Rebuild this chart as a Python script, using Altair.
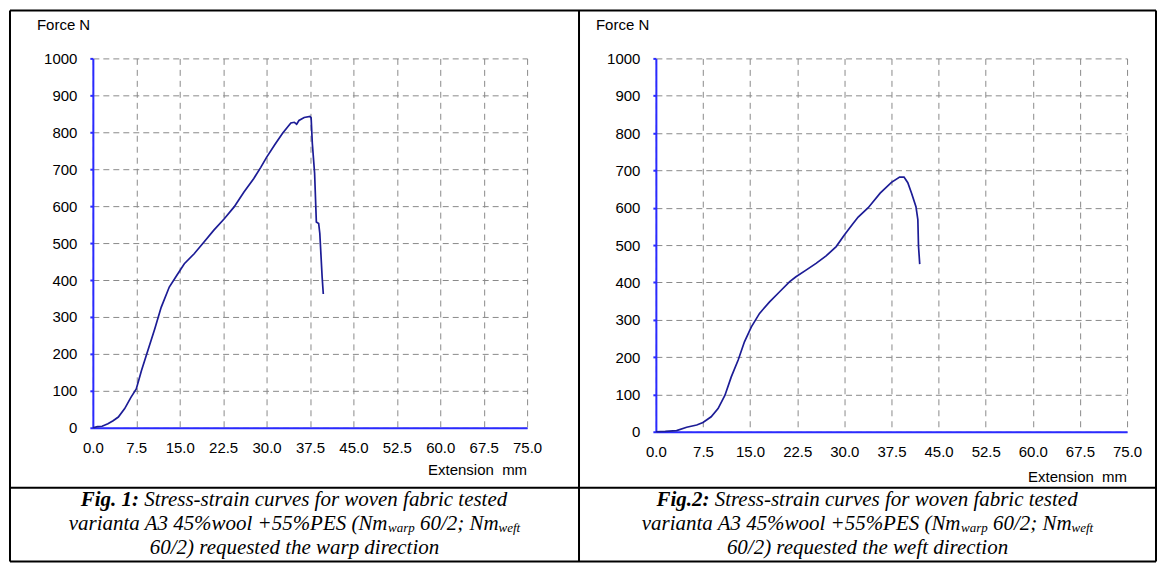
import altair as alt
import pandas as pd

# ---------------- data ----------------
x_tick_values = [0.0, 7.5, 15.0, 22.5, 30.0, 37.5, 45.0, 52.5, 60.0, 67.5, 75.0]
y_tick_values = [0, 100, 200, 300, 400, 500, 600, 700, 800, 900, 1000]

warp_extension = [0.0, 0.8, 1.6, 2.6, 3.5, 4.4, 5.5, 6.6, 7.5, 8.4, 9.5, 10.7, 11.8, 13.2,
                  14.4, 15.8, 17.5, 19.2, 20.9, 22.7, 24.4, 26.1, 27.8, 29.0, 30.0, 31.5,
                  32.8, 34.2, 34.8, 35.2, 35.6, 36.5, 37.5, 37.7, 37.9, 38.3, 38.6, 39.0,
                  39.2, 39.6, 39.8]
warp_force = [0, 3, 4, 11, 19, 29, 52, 83, 105, 155, 209, 268, 326, 381,
              410, 444, 471, 503, 535, 566, 598, 638, 675, 705, 732, 768,
              798, 825, 827, 822, 832, 840, 843, 839, 771, 689, 557, 553,
              526, 408, 362]

weft_extension = [0.0, 1.5, 3.3, 4.9, 6.5, 7.5, 8.8, 9.9, 11.0, 12.0, 13.1, 14.1, 15.2,
                  16.5, 18.1, 19.7, 21.3, 22.3, 23.9, 25.5, 27.1, 28.7, 30.0, 31.3, 32.2,
                  33.8, 35.7, 37.5, 38.8, 39.5, 40.1, 40.7, 41.4, 41.7, 41.8, 42.0]
weft_force = [0, 1, 3, 12, 18, 25, 40, 62, 98, 147, 192, 241, 281,
              317, 348, 375, 402, 415, 433, 451, 471, 496, 527, 556, 575,
              600, 639, 668, 682, 682, 667, 639, 603, 568, 498, 449]

y_title = "Force N"
x_title = "Extension\u00a0 mm"

fig1_label = "Fig. 1:"
fig2_label = "Fig.2:"
caption_line1 = "Stress-strain curves for woven fabric tested"
caption_line2 = ["varianta A3 45%wool +55%PES (Nm", "warp", "60/2; Nm", "weft"]
fig1_line3 = "60/2) requested the warp direction"
fig2_line3 = "60/2) requested the weft direction"

# ---------------- style ----------------
SANS = "Liberation Sans, Arial, sans-serif"
SERIF = "Liberation Serif, Times New Roman, serif"
AXIS_BLUE = "#2a2aff"
CURVE = "#1c1c96"
GRID = "#8a8a8a"
CAP_SIZE = 21
SUB_SIZE = 13
SUB_DY = 2.5

# page geometry (pixels on the page)
LEFT_O = (93, 58)
RIGHT_O = (657, 58)
LEFT_W, LEFT_H = 435, 370
RIGHT_W, RIGHT_H = 472, 374
B_L, B_R, B_T, B_B = 10, 1158, 10, 562
DIV_X, DIV_Y = 580, 488
BASE = [506, 530, 554]

# Times italic / bold italic advance widths (per 1000 em)
TI = {' ': 250, '%': 833, '(': 333, ')': 333, '+': 675, '-': 333, '.': 250, '/': 278, ':': 333,
      ';': 333, 'A': 611, 'E': 611, 'F': 611, 'N': 667, 'P': 611, 'S': 500,
      'a': 500, 'b': 500, 'c': 444, 'd': 500, 'e': 444, 'f': 278, 'g': 500, 'h': 500,
      'i': 278, 'l': 278, 'm': 722, 'n': 500, 'o': 500, 'p': 500, 'q': 500, 'r': 389,
      's': 389, 't': 278, 'u': 500, 'v': 444, 'w': 667}
TBI = {'F': 667, 'i': 278, 'g': 500, '.': 250, ' ': 250, ':': 333}


def tw(s, size, table):
    return sum(table.get(c, 500) for c in s) * size / 1000.0


one = pd.DataFrame({"k": [0]})


def txt(s, px, py, origin, size, align="left", weight="normal", style="normal",
        font=SERIF, baseline="alphabetic"):
    return alt.Chart(pd.DataFrame({"label": [s]})).mark_text(
        align=align, baseline=baseline, font=font, fontSize=size,
        fontWeight=weight, fontStyle=style, color="black"
    ).encode(x=alt.value(px - origin[0]), y=alt.value(py - origin[1]), text="label:N")


def hrule(x1, x2, y, origin, sw=2):
    return alt.Chart(one).mark_rule(color="black", strokeWidth=sw).encode(
        x=alt.value(x1 - origin[0]), x2=alt.value(x2 - origin[0]), y=alt.value(y - origin[1]))


def vrule(x, y1, y2, origin, sw=2):
    return alt.Chart(one).mark_rule(color="black", strokeWidth=sw).encode(
        x=alt.value(x - origin[0]), y=alt.value(y1 - origin[1]), y2=alt.value(y2 - origin[1]))


def caption(bold, line3, cx, origin):
    layers = []
    sp = tw(" ", CAP_SIZE, TI)
    wb = tw(bold, CAP_SIZE, TBI)
    w1 = tw(caption_line1, CAP_SIZE, TI)
    x0 = cx - (wb + sp + w1) / 2
    layers.append(txt(bold, x0, BASE[0], origin, CAP_SIZE, weight="bold", style="italic"))
    layers.append(txt(caption_line1, x0 + wb + sp, BASE[0], origin, CAP_SIZE, style="italic"))
    a, sub1, b, sub2 = caption_line2
    wa = tw(a, CAP_SIZE, TI)
    ws1 = tw(sub1, SUB_SIZE, TI)
    wbb = tw(b, CAP_SIZE, TI)
    ws2 = tw(sub2, SUB_SIZE, TI)
    total = wa + ws1 + sp + wbb + ws2
    x = cx - total / 2
    layers.append(txt(a, x, BASE[1], origin, CAP_SIZE, style="italic"))
    x += wa
    layers.append(txt(sub1, x, BASE[1] + SUB_DY, origin, SUB_SIZE, style="italic"))
    x += ws1 + sp
    layers.append(txt(b, x, BASE[1], origin, CAP_SIZE, style="italic"))
    x += wbb
    layers.append(txt(sub2, x, BASE[1] + SUB_DY, origin, SUB_SIZE, style="italic"))
    layers.append(txt(line3, cx, BASE[2], origin, CAP_SIZE, align="center", style="italic"))
    return layers


def panel(ext, force, w, h, origin, extra):
    df = pd.DataFrame({"ext": ext, "force": force, "i": list(range(len(ext)))})
    x = alt.X("ext:Q", scale=alt.Scale(domain=[0, 75], nice=False, zero=False),
              axis=alt.Axis(values=x_tick_values, format=".1f", title=None,
                            domainColor=AXIS_BLUE, domainWidth=2, ticks=False, tickSize=0,
                            labelPadding=13, labelFlush=False, labelOverlap=False,
                            labelFont=SANS, labelFontSize=15, labelColor="black",
                            grid=True, gridColor=GRID, gridDash=[6, 5], gridWidth=1))
    y = alt.Y("force:Q", scale=alt.Scale(domain=[0, 1000], nice=False, zero=True),
              axis=alt.Axis(values=y_tick_values, format="d", title=None,
                            domainColor=AXIS_BLUE, domainWidth=2, ticks=True, tickSize=3,
                            tickColor=AXIS_BLUE, tickWidth=2, labelPadding=13,
                            labelOverlap=False, labelFont=SANS, labelFontSize=15,
                            labelColor="black",
                            grid=True, gridColor=GRID, gridDash=[6, 4], gridWidth=1))
    line = alt.Chart(df).mark_line(color=CURVE, strokeWidth=1.7).encode(
        x=x, y=y, order="i:Q")
    return alt.layer(line, *extra).properties(width=w, height=h)


# left panel annotations + table borders
left_extra = [
    txt(y_title, 37, 25, LEFT_O, 15, font=SANS, baseline="middle"),
    txt(x_title, 93 + LEFT_W, 470, LEFT_O, 15, align="right", font=SANS, baseline="middle"),
    hrule(B_L, B_R, B_T, LEFT_O),
    hrule(B_L, B_R, B_B, LEFT_O),
    hrule(B_L, B_R, DIV_Y, LEFT_O),
    vrule(B_L, B_T, B_B, LEFT_O),
    vrule(B_R, B_T, B_B, LEFT_O),
    vrule(DIV_X, B_T, B_B, LEFT_O),
] + caption(fig1_label, fig1_line3, (B_L + DIV_X) / 2, LEFT_O)

right_extra = [
    txt(y_title, 597, 25, RIGHT_O, 15, font=SANS, baseline="middle"),
    txt(x_title, 657 + RIGHT_W, 477, RIGHT_O, 15, align="right", font=SANS, baseline="middle"),
] + caption(fig2_label, fig2_line3, (DIV_X + B_R) / 2, RIGHT_O)

left = panel(warp_extension, warp_force, LEFT_W, LEFT_H, LEFT_O, left_extra)
right = panel(weft_extension, weft_force, RIGHT_W, RIGHT_H, RIGHT_O, right_extra)

chart = alt.hconcat(left, right, spacing=RIGHT_O[0] - LEFT_O[0] - LEFT_W,
                    bounds="flush").properties(
    padding=0, background="white"
).configure_view(stroke="transparent")

chart.save("out.html", embed_options={"renderer": "svg", "actions": False})
